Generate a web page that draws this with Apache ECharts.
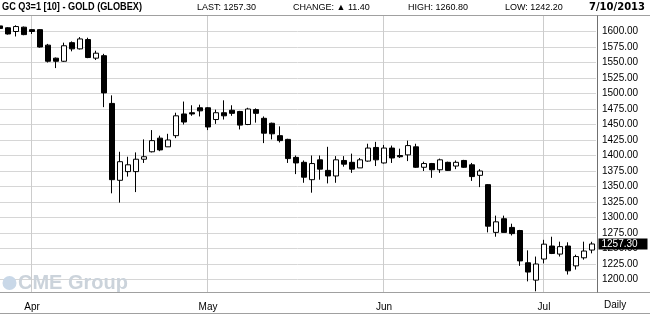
<!DOCTYPE html>
<html><head><meta charset="utf-8">
<script src="https://cdn.jsdelivr.net/npm/echarts/dist/echarts.min.js"></script>
<style>html,body{margin:0;padding:0;background:#fff;overflow:hidden}#c{width:650px;height:314px}</style>
</head><body><div id="c"></div>
<script>
const dates = [
 '2013-03-25','2013-03-26','2013-03-27','2013-03-28',
 '2013-04-01','2013-04-02','2013-04-03','2013-04-04','2013-04-05','2013-04-08','2013-04-09','2013-04-10','2013-04-11','2013-04-12',
 '2013-04-15','2013-04-16','2013-04-17','2013-04-18','2013-04-19','2013-04-22','2013-04-23','2013-04-24','2013-04-25','2013-04-26','2013-04-29','2013-04-30',
 '2013-05-01','2013-05-02','2013-05-03','2013-05-06','2013-05-07','2013-05-08','2013-05-09','2013-05-10','2013-05-13','2013-05-14','2013-05-15','2013-05-16','2013-05-17',
 '2013-05-20','2013-05-21','2013-05-22','2013-05-23','2013-05-24','2013-05-28','2013-05-29','2013-05-30','2013-05-31',
 '2013-06-03','2013-06-04','2013-06-05','2013-06-06','2013-06-07','2013-06-10','2013-06-11','2013-06-12','2013-06-13','2013-06-14',
 '2013-06-17','2013-06-18','2013-06-19','2013-06-20','2013-06-21','2013-06-24','2013-06-25','2013-06-26','2013-06-27','2013-06-28',
 '2013-07-01','2013-07-02','2013-07-03','2013-07-05','2013-07-08','2013-07-09','2013-07-10'
];
const opens = [1609,1606,1600,1607, 1603,1603,1578,1557,1552,1582,1572,1587,1557,1561, 1484,1360,1374,1374,1394,1406,1428,1414,1432,1467,1469,1477,
 1477,1458,1469,1473,1471,1450,1474,1460,1452,1432,1426,1397,1389, 1361,1393,1376,1367,1392,1389,1380,1391,1413,
 1388,1412,1400,1401,1414,1381,1387,1377,1389,1383, 1392,1385,1368,1353,1276,1298,1284,1279,1227,1199,
 1233,1254,1241,1254,1222,1235,1247.5];
const closes = [1605,1596,1608,1595, 1600,1575,1552,1552,1577,1572,1588,1558,1565,1501, 1361,1390,1385,1394,1398,1424,1409,1425,1464,1454,1467,1472,
 1446,1469,1464,1468,1449,1475,1468,1436,1435,1424,1395,1388,1365, 1387,1378,1367,1393,1386,1378,1393,1412,1393,
 1412,1396,1398,1416,1381,1387,1377,1393,1376,1389, 1381,1366,1375,1286,1293,1276,1274,1230,1212,1225,
 1257,1242,1253,1214,1237,1245.9,1257.3];
const lows = [1604,1595,1592,1594, 1596,1574,1550,1541,1551,1568,1571,1557,1554,1478, 1339,1324,1366,1341,1388,1405,1407,1414,1428,1450,1464,1463,
 1441,1451,1458,1464,1442,1449,1453,1420,1426,1421,1388,1370,1356, 1340,1361,1355,1356,1382,1372,1380,1390,1383,
 1387,1388,1396,1391,1380,1375,1364,1372,1375,1378, 1380,1359,1349,1276,1269,1276,1271,1222,1197,1181,
 1226,1241,1237,1208,1216,1232,1242.2];
const highs = [1610,1607,1610,1608, 1604,1604,1580,1558,1582,1584,1591,1590,1569,1564, 1497,1406,1398,1405,1426,1441,1432,1435,1469,1487,1481,1482,
 1478,1474,1489,1481,1472,1477,1476,1463,1453,1447,1427,1400,1392, 1400,1400,1414,1399,1399,1403,1396,1419,1422,
 1417,1416,1411,1424,1419,1390,1388,1395,1390,1392, 1393,1388,1378,1354,1303,1303,1290,1280,1247,1237,
 1264,1269,1261,1260,1240,1261,1260.8];
const yTickLabels = [1200,1225,1250,1275,1300,1325,1350,1375,1400,1425,1450,1475,1500,1525,1550,1575,1600];
const monthNames = ['Jan','Feb','Mar','Apr','May','Jun','Jul','Aug','Sep','Oct','Nov','Dec'];
const shownMonths = ['Apr','May','Jun','Jul'];
const symbolName = 'GC Q3=1 [10] - GOLD (GLOBEX)';
const periodLabel = 'Daily';

const monthStarts = [];
dates.forEach((d, i) => {
  if (i > 0 && d.slice(5,7) !== dates[i-1].slice(5,7)) monthStarts.push(i);
});
const monthStartList = monthStarts.filter(i => shownMonths.includes(monthNames[+dates[i].slice(5,7)-1]));
const monthStartSet = new Set(monthStartList);
const candles = dates.map((d, i) => [opens[i], closes[i], lows[i], highs[i]]);
const n = dates.length;
const last = n - 1;
const lastClose = closes[last];
const change = closes[last] - closes[last-1];
const ld = dates[last].split('-');
const dateText = (+ld[1]) + '/' + (+ld[2]) + '/' + ld[0];

const FONT = '"Liberation Sans", Arial, sans-serif';
const titleFont = 'bold 11.5px "Liberation Sans", Arial, sans-serif';
const mctx = document.createElement('canvas').getContext('2d');
mctx.font = titleFont;
const titleScale = 140 / mctx.measureText(symbolName).width;

const chart = echarts.init(document.getElementById('c'), null, {renderer: 'canvas'});
const hdr = (x, text) => ({
  type: 'text', left: x, top: 3, z: 100,
  style: {text: text, fill: '#000', font: '9px ' + FONT}
});

const YMIN = 1175, YMAX = 1625;
chart.setOption({
  animation: false,
  backgroundColor: '#fff',
  grid: {left: -4, width: 600, top: 16, height: 279, containLabel: false, outerBoundsMode: 'none'},
  xAxis: {
    type: 'category', data: dates, boundaryGap: true,
    axisLine: {show: false}, axisTick: {show: false},
    splitLine: {show: false},
    axisLabel: {
      interval: (i) => monthStartSet.has(i),
      formatter: (v) => monthNames[+v.slice(5,7)-1],
      color: '#000', fontSize: 10, fontFamily: FONT, margin: 7
    }
  },
  yAxis: {
    type: 'value', position: 'right', min: YMIN, max: YMAX, interval: 25, scale: true,
    axisLine: {show: false}, axisTick: {show: false},
    splitLine: {show: true, showMinLine: false, showMaxLine: false, lineStyle: {color: '#d6d6d6', width: 1}},
    axisLabel: {
      formatter: (v) => yTickLabels.includes(v) ? v.toFixed(2) : '',
      color: '#000', fontSize: 10, fontFamily: FONT, margin: 6
    }
  },
  series: [{
    type: 'candlestick',
    data: candles,
    barWidth: 5,
    clip: false,
    z: 3,
    itemStyle: {color: '#fff', color0: '#000', borderColor: '#000', borderColor0: '#000', borderWidth: 1},
    markPoint: {
      silent: true, symbol: 'rect', symbolSize: [49, 11], symbolOffset: [31, 0],
      itemStyle: {color: '#000'},
      label: {show: true, position: 'insideLeft', distance: 3, color: '#fff', fontSize: 10, fontFamily: FONT,
              formatter: () => lastClose.toFixed(2)},
      data: [{coord: [last, lastClose], value: lastClose}]
    }
  }]
});

// month separator lines placed through the library's own axis scale
const yTop = chart.convertToPixel({yAxisIndex: 0}, YMAX);
const monthLines = monthStartList.map(i => {
  const x = Math.round(chart.convertToPixel({xAxisIndex: 0}, dates[i])) - 0.5;
  return {type: 'line', z: 1, silent: true, shape: {x1: x, y1: yTop, x2: x, y2: 292},
          style: {stroke: '#cccccc', lineWidth: 1}};
});

chart.setOption({
  graphic: [
    ...monthLines,
    {type: 'text', left: 2, top: 1, z: 100, scaleX: titleScale,
     style: {text: symbolName, fill: '#000', font: titleFont}},
    hdr(197, 'LAST: ' + lastClose.toFixed(2)),
    hdr(293, 'CHANGE: \u25B2 ' + change.toFixed(2)),
    hdr(408, 'HIGH: ' + highs[last].toFixed(2)),
    hdr(505, 'LOW: ' + lows[last].toFixed(2)),
    {type: 'text', right: 5, top: 2, z: 100,
     style: {text: dateText, fill: '#000', font: 'bold 10px "DejaVu Sans", sans-serif'}},
    {type: 'line', z: 100, shape: {x1: 0, y1: 15.5, x2: 650, y2: 15.5}, style: {stroke: '#a0a0a0', lineWidth: 1}},
    {type: 'rect', z: 90, shape: {x: 0, y: 292.5, width: 650, height: 4}, style: {fill: '#fff'}},
    {type: 'line', z: 100, shape: {x1: 0, y1: 292.5, x2: 650, y2: 292.5}, style: {stroke: '#a0a0a0', lineWidth: 1}},
    {type: 'line', z: 100, shape: {x1: 0, y1: 313.5, x2: 650, y2: 313.5}, style: {stroke: '#a0a0a0', lineWidth: 1}},
    {type: 'line', z: 100, shape: {x1: 597.5, y1: 15.5, x2: 597.5, y2: 292.5}, style: {stroke: '#707070', lineWidth: 1}},
    {type: 'text', left: 604, top: 300, z: 100,
     style: {text: periodLabel, fill: '#000', font: '10px ' + FONT}},
    {type: 'circle', z: 0, shape: {cx: 9.5, cy: 283, r: 7}, style: {fill: '#c9d8e8'}},
    {type: 'text', left: 18, top: 273, z: 0,
     style: {text: 'CME Group', fill: '#cbd3db', font: 'bold 20px "Liberation Sans", Arial, sans-serif'}}
  ]
});
</script></body></html>
